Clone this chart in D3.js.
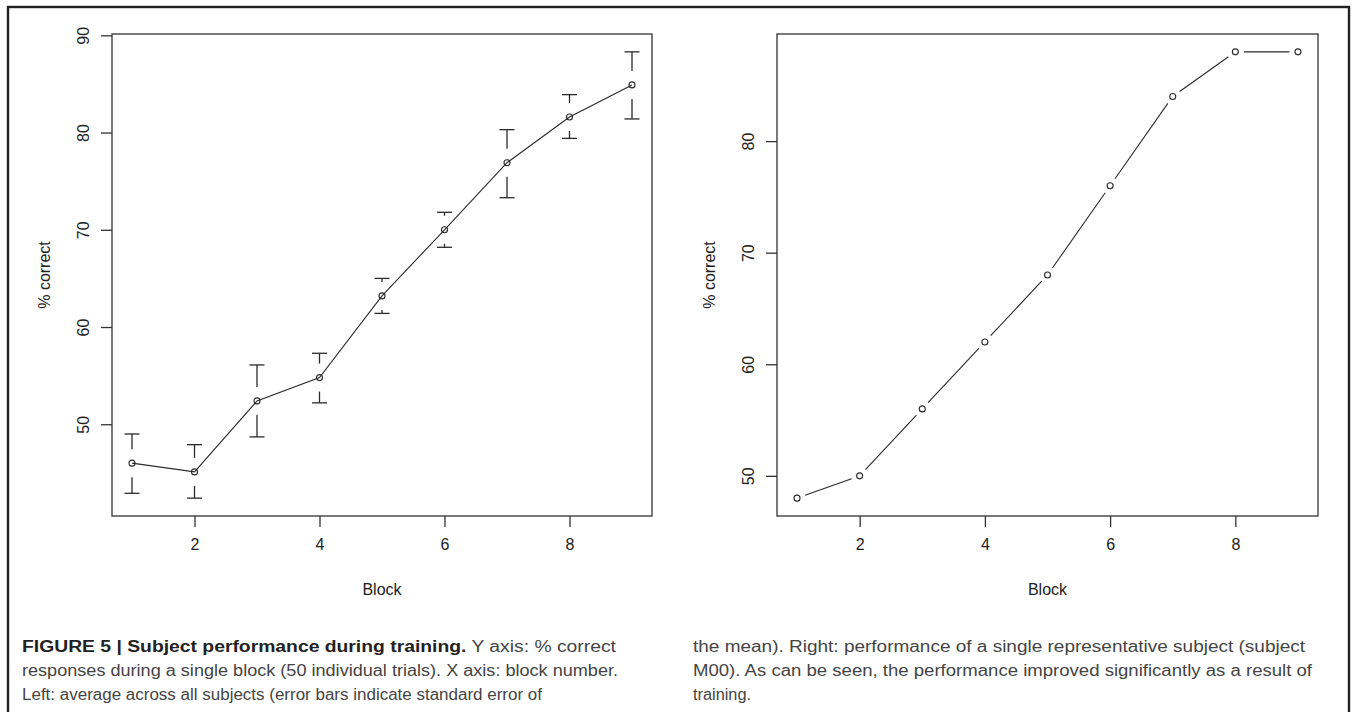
<!DOCTYPE html>
<html>
<head>
<meta charset="utf-8">
<script src="https://cdn.jsdelivr.net/npm/d3@7"></script>
<style>
  html, body { margin: 0; padding: 0; background: #fff; }
  svg text { font-family: "Liberation Sans", Arial, Helvetica, sans-serif; }
</style>
</head>
<body>
<svg id="fig" width="1355" height="712"></svg>
<script>
// data
const blocks = [1, 2, 3, 4, 5, 6, 7, 8, 9];
const meanCorrect = [46.0, 45.1, 52.4, 54.8, 63.2, 70.0, 76.9, 81.6, 84.9];
const seUpper = [49.0, 47.9, 56.1, 57.3, 65.0, 71.8, 80.3, 83.9, 88.3];
const seLower = [42.9, 42.4, 48.7, 52.2, 61.4, 68.2, 73.3, 79.4, 81.4];
const subjectCorrect = [48, 50, 56, 62, 68, 76, 84, 88, 88];
const xTicks = [2, 4, 6, 8];
const leftYTicks = [50, 60, 70, 80, 90];
const rightYTicks = [50, 60, 70, 80];

const svg = d3.select("#fig");
const ink = "#2a2a2a";

// outer frame (bottom runs off the page)
svg.append("rect")
   .attr("x", 8).attr("y", 7)
   .attr("width", 1341).attr("height", 760)
   .attr("fill", "none").attr("stroke", "#222").attr("stroke-width", 2.4);

// R style range: data extent widened by 4% on each side
function rRange(vals) {
    const [lo, hi] = d3.extent(vals);
    const pad = (hi - lo) * 0.04;
    return [lo - pad, hi + pad];
}

function panel(left, right, yDomain, yTicks) {
    const top = 34, bottom = 516;
    const x = d3.scaleLinear().domain(rRange(blocks)).range([left, right]);
    const y = d3.scaleLinear().domain(yDomain).range([bottom, top]);
    const g = svg.append("g");

    g.append("rect")
     .attr("x", left).attr("y", top)
     .attr("width", right - left).attr("height", bottom - top)
     .attr("fill", "none").attr("stroke", "#333").attr("stroke-width", 1.3);

    // x axis
    const ax = g.append("g")
       .attr("transform", `translate(0,${bottom})`)
       .call(d3.axisBottom(x).tickValues(xTicks).tickSize(11).tickPadding(12).tickFormat(d3.format("d")));
    ax.select(".domain").remove();
    ax.selectAll("line").attr("stroke", "#333").attr("stroke-width", 1.3);
    ax.selectAll("text").attr("font-size", 16).attr("fill", "#222");

    // y axis, labels turned like R's default
    const ay = g.append("g")
       .attr("transform", `translate(${left},0)`)
       .call(d3.axisLeft(y).tickValues(yTicks).tickSize(11).tickFormat(d3.format("d")));
    ay.select(".domain").remove();
    ay.selectAll("line").attr("stroke", "#333").attr("stroke-width", 1.3);
    ay.selectAll("text")
      .attr("x", null).attr("dy", "0.36em")
      .attr("text-anchor", "middle")
      .attr("transform", "translate(-29,0) rotate(-90)")
      .attr("font-size", 16).attr("fill", "#222");

    g.append("text")
     .attr("x", (left + right) / 2).attr("y", 595)
     .attr("text-anchor", "middle").attr("font-size", 16).attr("fill", "#222")
     .text("Block");

    g.append("text")
     .attr("transform", `translate(${left - 68},${(top + bottom) / 2}) rotate(-90)`)
     .attr("dy", "0.36em")
     .attr("text-anchor", "middle").attr("font-size", 16).attr("fill", "#222")
     .text("% correct");

    return { g, x, y };
}

// ---- left: mean with standard error bars ----
const L = panel(112, 652, rRange(seLower.concat(seUpper)), leftYTicks);
const gap = 14, cap = 7.5;

blocks.forEach((b, i) => {
    const px = L.x(b), pm = L.y(meanCorrect[i]);
    [seUpper[i], seLower[i]].forEach(v => {
        const pv = L.y(v);
        const dir = pv < pm ? -1 : 1;
        if (Math.abs(pv - pm) > gap) {
            L.g.append("line")
             .attr("x1", px).attr("x2", px)
             .attr("y1", pm + dir * gap).attr("y2", pv)
             .attr("stroke", ink).attr("stroke-width", 1.3);
        }
        L.g.append("line")
         .attr("x1", px - cap).attr("x2", px + cap)
         .attr("y1", pv).attr("y2", pv)
         .attr("stroke", ink).attr("stroke-width", 1.3);
    });
});

L.g.append("path")
   .datum(blocks)
   .attr("d", d3.line().x(b => L.x(b)).y((b, i) => L.y(meanCorrect[i])))
   .attr("fill", "none").attr("stroke", ink).attr("stroke-width", 1.1);

L.g.selectAll(".pt")
   .data(blocks)
   .enter()
   .append("circle")
   .attr("cx", b => L.x(b))
   .attr("cy", (b, i) => L.y(meanCorrect[i]))
   .attr("r", 3)
   .attr("fill", "none").attr("stroke", ink).attr("stroke-width", 1.1);

// ---- right: one subject, points joined by gapped segments ----
const R = panel(777, 1318, rRange(subjectCorrect), rightYTicks);
const segGap = 8.5;

for (let i = 0; i < blocks.length - 1; i++) {
    const x1 = R.x(blocks[i]), y1 = R.y(subjectCorrect[i]);
    const x2 = R.x(blocks[i + 1]), y2 = R.y(subjectCorrect[i + 1]);
    const len = Math.hypot(x2 - x1, y2 - y1);
    const ux = (x2 - x1) / len, uy = (y2 - y1) / len;
    R.g.append("line")
     .attr("x1", x1 + ux * segGap).attr("y1", y1 + uy * segGap)
     .attr("x2", x2 - ux * segGap).attr("y2", y2 - uy * segGap)
     .attr("stroke", ink).attr("stroke-width", 1.1);
}

R.g.selectAll(".pt")
   .data(blocks)
   .enter()
   .append("circle")
   .attr("cx", b => R.x(b))
   .attr("cy", (b, i) => R.y(subjectCorrect[i]))
   .attr("r", 3)
   .attr("fill", "none").attr("stroke", ink).attr("stroke-width", 1.1);

// ---- caption ----
const capLines = [
    { x: 22, y: 652, w: 594, parts: [["FIGURE 5 | Subject performance during training.", 700], [" Y axis: % correct", 400]] },
    { x: 22, y: 676, w: 596, parts: [["responses during a single block (50 individual trials). X axis: block number.", 400]] },
    { x: 22, y: 700, w: 520, parts: [["Left: average across all subjects (error bars indicate standard error of", 400]] },
    { x: 693, y: 652, w: 612, parts: [["the mean). Right: performance of a single representative subject (subject", 400]] },
    { x: 693, y: 676, w: 619, parts: [["M00). As can be seen, the performance improved significantly as a result of", 400]] },
    { x: 693, y: 700, w: 58, parts: [["training.", 400]] }
];

capLines.forEach(l => {
    const t = svg.append("text")
       .attr("x", l.x).attr("y", l.y)
       .attr("font-size", 16).attr("fill", "#333")
       .attr("textLength", l.w).attr("lengthAdjust", "spacingAndGlyphs");
    l.parts.forEach(p => {
        t.append("tspan")
         .attr("font-weight", p[1])
         .attr("fill", p[1] > 500 ? "#222" : "#444")
         .text(p[0]);
    });
});
</script>
</body>
</html>
